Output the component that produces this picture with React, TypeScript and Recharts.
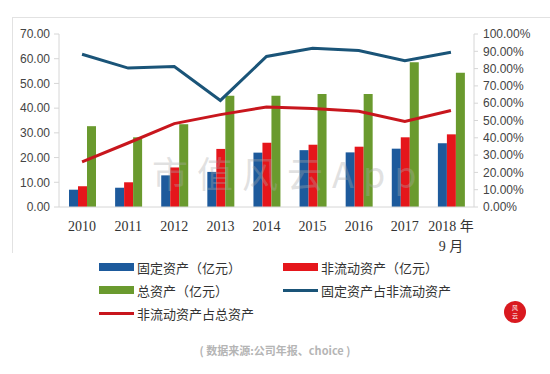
import React from 'react';
import { ComposedChart, Bar, Line, XAxis, YAxis } from 'recharts';

const years = ['2010', '2011', '2012', '2013', '2014', '2015', '2016', '2017', '2018 年|9 月'];
const fixedAssets = [7.0, 7.8, 12.8, 14.2, 22.0, 23.0, 22.1, 23.6, 25.8];
const nonCurrentAssets = [8.4, 10.0, 16.0, 23.5, 26.0, 25.2, 24.4, 28.2, 29.4];
const totalAssets = [32.7, 28.2, 33.5, 45.0, 45.0, 45.7, 45.7, 58.6, 54.3];
const fixedShareOfNonCurrent = [88.3, 80.3, 81.2, 61.6, 87.0, 91.8, 90.4, 84.6, 89.4];
const nonCurrentShareOfTotal = [26.1, 37.0, 48.2, 53.4, 57.8, 57.0, 55.3, 49.5, 55.8];
const leftTicks = [0, 10, 20, 30, 40, 50, 60, 70];
const rightTicks = [0, 10, 20, 30, 40, 50, 60, 70, 80, 90, 100];

const data = years.map((y, i) => ({
  year: y,
  fixed: fixedAssets[i],
  nonCurrent: nonCurrentAssets[i],
  total: totalAssets[i],
  fixedPct: fixedShareOfNonCurrent[i],
  nonCurrentPct: nonCurrentShareOfTotal[i],
}));

const legendItems = [
  { name: '固定资产（亿元）', color: '#1d5a9c', kind: 'bar' },
  { name: '非流动资产（亿元）', color: '#e5161b', kind: 'bar' },
  { name: '总资产（亿元）', color: '#6a9a2e', kind: 'bar' },
  { name: '固定资产占非流动资产', color: '#1a5478', kind: 'line' },
  { name: '非流动资产占总资产', color: '#c8161d', kind: 'line' },
];

const cjk = '"Noto Sans CJK SC", "Noto Sans", sans-serif';

const YearTick = (props: any) => {
  const { x, y, payload } = props;
  const lines = String(payload.value).split('|');
  return (
    <text x={x} y={y} textAnchor="middle" fill="#333" fontSize={14} fontFamily='"Liberation Serif", serif'>
      {lines.map((l, i) => (
        <tspan key={i} x={x} dy={i === 0 ? 16 : 20} fontFamily={/[年月]/.test(l) ? `"Liberation Serif", ${cjk}` : undefined}>
          {l}
        </tspan>
      ))}
    </text>
  );
};

export default function App() {
  return (
    <div style={{ position: 'absolute', left: 0, top: 0, width: 550, height: 374, background: '#fff', overflow: 'hidden' }}>
      {/* faint frame */}
      <div style={{ position: 'absolute', left: 12, top: 17, width: 540, height: 235, borderLeft: '1px solid #e2e2e2', borderTop: '1px solid #e2e2e2' }} />
      <div style={{ position: 'absolute', left: 0, top: 0 }}>
        <ComposedChart width={550} height={262} data={data} margin={{ top: 34, right: 0, bottom: 0, left: 0 }} barGap={0} barSize={9}>
          <XAxis
            dataKey="year"
            xAxisId="x"
            height={55}
            tickLine={false}
            axisLine={{ stroke: '#d6d6d6' }}
            tick={<YearTick />}
            interval={0}
          />
          <YAxis
            yAxisId="left"
            width={59}
            domain={[0, 70]}
            ticks={leftTicks}
            interval={0}
            tickFormatter={(v: number) => v.toFixed(2)}
            tick={{ fill: '#444', fontSize: 12, fontFamily: '"Liberation Sans", sans-serif' }}
            tickSize={5}
            tickMargin={4}
            axisLine={{ stroke: '#d6d6d6' }}
            tickLine={{ stroke: '#d6d6d6' }}
          />
          <YAxis
            yAxisId="right"
            orientation="right"
            width={76}
            domain={[0, 100]}
            ticks={rightTicks}
            interval={0}
            tickFormatter={(v: number) => `${v.toFixed(2)}%`}
            tick={{ fill: '#444', fontSize: 12, fontFamily: '"Liberation Sans", sans-serif', textAnchor: 'start' }}
            tickSize={4}
            tickMargin={5}
            axisLine={{ stroke: '#d6d6d6' }}
            tickLine={{ stroke: '#d6d6d6' }}
          />
          <Bar xAxisId="x" yAxisId="left" dataKey="fixed" fill="#1d5a9c" isAnimationActive={false} />
          <Bar xAxisId="x" yAxisId="left" dataKey="nonCurrent" fill="#e5161b" isAnimationActive={false} />
          <Bar xAxisId="x" yAxisId="left" dataKey="total" fill="#6a9a2e" isAnimationActive={false} />
          <Line xAxisId="x" yAxisId="right" dataKey="fixedPct" stroke="#1a5478" strokeWidth={3} dot={false} type="linear" isAnimationActive={false} />
          <Line xAxisId="x" yAxisId="right" dataKey="nonCurrentPct" stroke="#c8161d" strokeWidth={3} dot={false} type="linear" isAnimationActive={false} />
        </ComposedChart>
      </div>
      {/* watermark */}
      <div style={{ position: 'absolute', left: 152, top: 146, fontSize: 36, letterSpacing: 9, color: 'rgba(170,170,170,0.35)', fontFamily: cjk, whiteSpace: 'nowrap', pointerEvents: 'none' }}>
        市值风云App
      </div>
      {/* legend */}
      {legendItems.map((it, i) => {
        const col = i % 2;
        const row = Math.floor(i / 2);
        const left = col === 0 ? 99 : 283;
        const cy = 267 + row * 23;
        return (
          <div key={it.name} style={{ position: 'absolute', left, top: cy - 10, height: 20, display: 'flex', alignItems: 'center', whiteSpace: 'nowrap' }}>
            <div style={{ width: 35, height: it.kind === 'bar' ? 8 : 3, background: it.color, marginRight: 3 }} />
            <span style={{ fontSize: 13, color: '#333', fontFamily: cjk }}>{it.name}</span>
          </div>
        );
      })}
      {/* logo */}
      <div style={{ position: 'absolute', left: 504, top: 301, width: 22, height: 22, borderRadius: 11, background: '#d9191f', color: '#fff', fontSize: 6, lineHeight: '8px', textAlign: 'center', fontFamily: cjk, paddingTop: 3, boxSizing: 'border-box' }}>
        风<br />云
      </div>
      {/* source */}
      <div style={{ position: 'absolute', left: 0, width: 550, top: 342, textAlign: 'center', fontSize: 11, color: '#b5b5b5', fontFamily: cjk, fontWeight: 700 }}>
        ( 数据来源:公司年报、choice )
      </div>
    </div>
  );
}
